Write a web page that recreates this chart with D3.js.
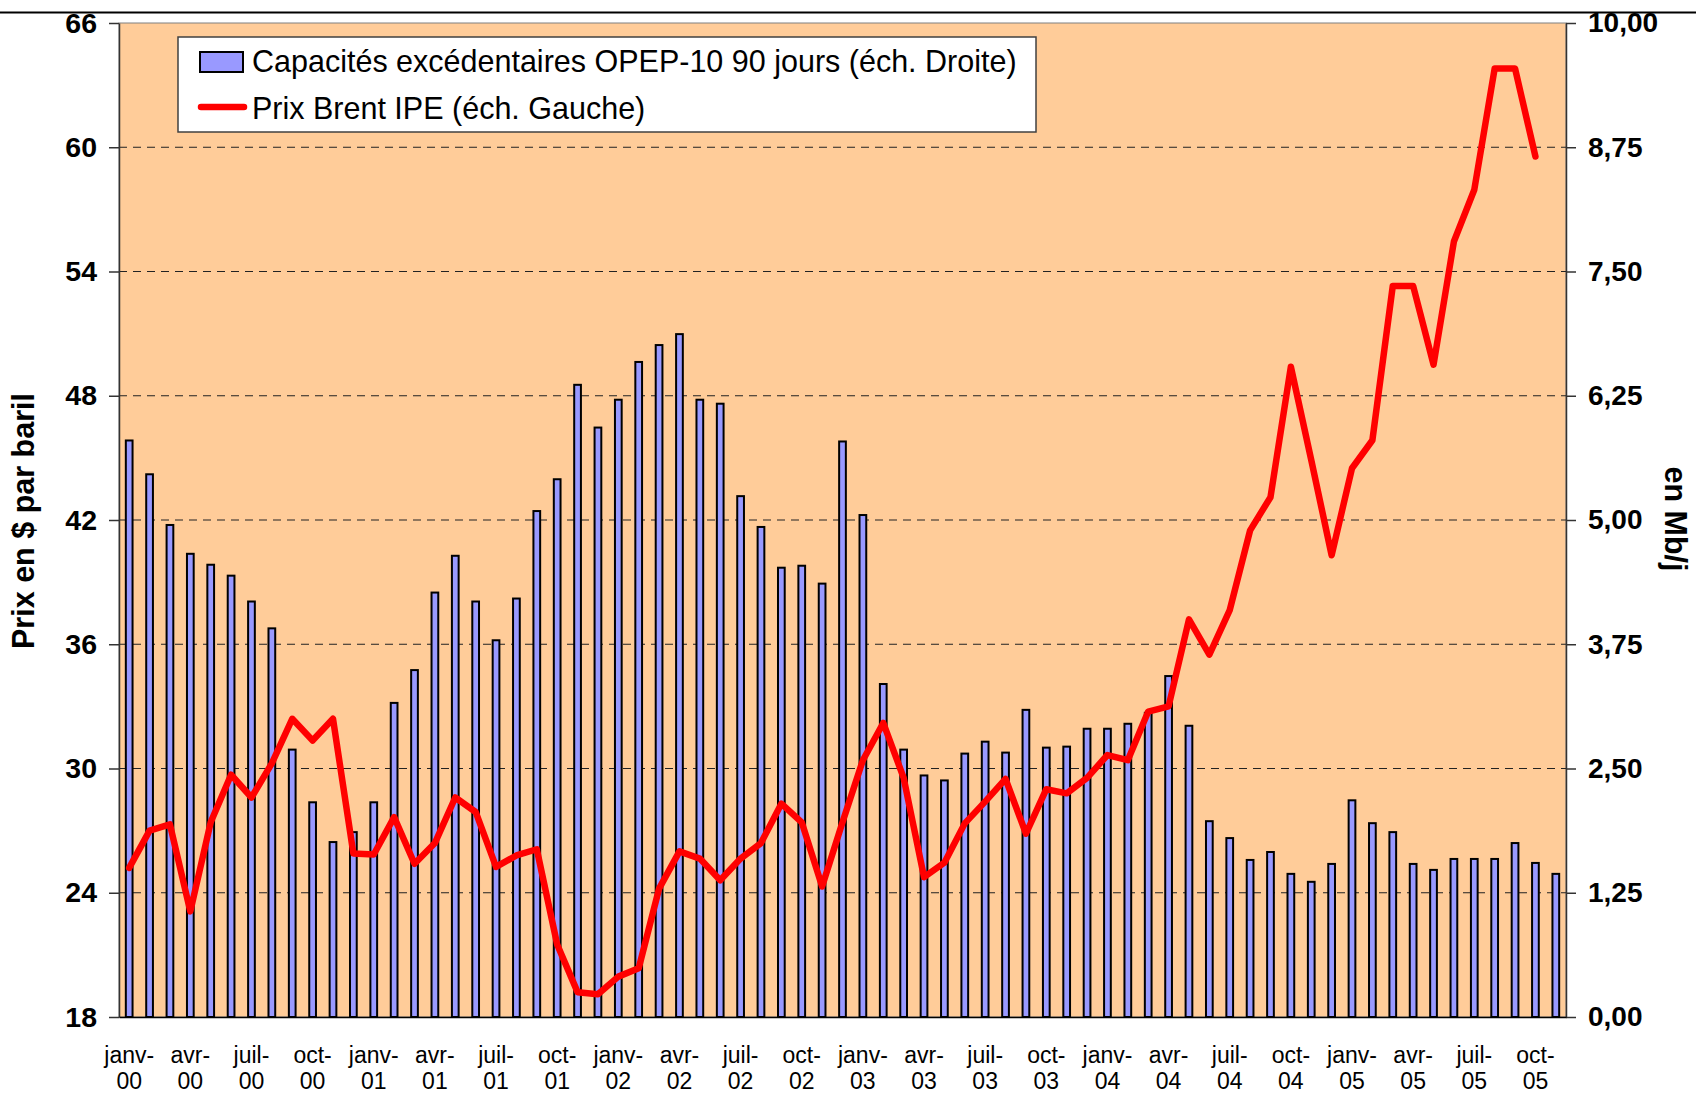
<!DOCTYPE html>
<html lang="fr">
<head>
<meta charset="utf-8">
<title>Capacités excédentaires OPEP-10 et prix du Brent</title>
<script src="https://cdn.jsdelivr.net/npm/d3@7"></script>
<style>
  body { margin: 0; background: #fff; }
  svg { display: block; font-family: "Liberation Sans", Arial, sans-serif; }
</style>
</head>
<body>
<div id="chart"></div>
<script>
// months, janv-00 .. nov-05
const months = [
  "janv-00", "févr-00", "mars-00", "avr-00", "mai-00", "juin-00", "juil-00", "août-00", "sept-00", "oct-00", "nov-00", "déc-00",
  "janv-01", "févr-01", "mars-01", "avr-01", "mai-01", "juin-01", "juil-01", "août-01", "sept-01", "oct-01", "nov-01", "déc-01",
  "janv-02", "févr-02", "mars-02", "avr-02", "mai-02", "juin-02", "juil-02", "août-02", "sept-02", "oct-02", "nov-02", "déc-02",
  "janv-03", "févr-03", "mars-03", "avr-03", "mai-03", "juin-03", "juil-03", "août-03", "sept-03", "oct-03", "nov-03", "déc-03",
  "janv-04", "févr-04", "mars-04", "avr-04", "mai-04", "juin-04", "juil-04", "août-04", "sept-04", "oct-04", "nov-04", "déc-04",
  "janv-05", "févr-05", "mars-05", "avr-05", "mai-05", "juin-05", "juil-05", "août-05", "sept-05", "oct-05", "nov-05"
];

// spare capacity OPEP-10, Mb/j (right scale)
const capacity = [
  5.80, 5.46, 4.95, 4.66, 4.55, 4.44, 4.18, 3.91, 2.69, 2.16, 1.76, 1.86,
  2.16, 3.16, 3.49, 4.27, 4.64, 4.18, 3.79, 4.21, 5.09, 5.41, 6.36, 5.93,
  6.21, 6.59, 6.76, 6.87, 6.21, 6.17, 5.24, 4.93, 4.52, 4.54, 4.36, 5.79,
  5.05, 3.35, 2.69, 2.43, 2.38, 2.65, 2.77, 2.66, 3.09, 2.71, 2.72, 2.90,
  2.90, 2.95, 3.06, 3.43, 2.93, 1.97, 1.80, 1.58, 1.66, 1.44, 1.36, 1.54,
  2.18, 1.95, 1.86, 1.54, 1.48, 1.59, 1.59, 1.59, 1.75, 1.55, 1.44
];

// Brent IPE, $ per barrel (left scale), no value for nov-05
const brent = [
  25.2, 27.0, 27.3, 23.1, 27.4, 29.7, 28.6, 30.25, 32.4, 31.35, 32.4, 25.9,
  25.85, 27.65, 25.4, 26.4, 28.6, 27.9, 25.25, 25.8, 26.1, 21.5, 19.2, 19.1,
  19.95, 20.35, 24.2, 26.0, 25.65, 24.6, 25.65, 26.4, 28.3, 27.4, 24.3, 27.4,
  30.4, 32.2, 29.55, 24.75, 25.45, 27.35, 28.4, 29.5, 26.85, 29.0, 28.8, 29.55,
  30.65, 30.4, 32.75, 33.0, 37.2, 35.5, 37.65, 41.5, 43.1, 49.4, 44.9, 40.3,
  44.5, 45.85, 53.3, 53.3, 49.5, 55.45, 57.95, 63.8, 63.8, 59.55, null
];

const leftTicks = [18, 24, 30, 36, 42, 48, 54, 60, 66];
const rightTicks = [0, 1.25, 2.5, 3.75, 5, 6.25, 7.5, 8.75, 10];
const tickMonths = months.filter((m, i) => i % 3 === 0);

const legendLabels = [
  "Capacités excédentaires OPEP-10 90 jours (éch. Droite)",
  "Prix Brent IPE (éch. Gauche)"
];

const width = 1696, height = 1096;
const plot = { left: 119, right: 1566, top: 23, bottom: 1017 };

const frFormat = d3.formatLocale({ decimal: ",", thousands: " ", grouping: [3], currency: ["", " €"] }).format(".2f");

const svg = d3.select("#chart").append("svg")
    .attr("width", width)
    .attr("height", height);

// rule across the top
svg.append("line")
    .attr("x1", 0).attr("x2", width)
    .attr("y1", 12.5).attr("y2", 12.5)
    .attr("stroke", "#000")
    .attr("stroke-width", 2);

const x = d3.scaleBand()
    .domain(months)
    .range([plot.left, plot.right])
    .paddingInner(0.67)
    .paddingOuter(0.335);

const yLeft = d3.scaleLinear().domain([18, 66]).range([plot.bottom, plot.top]);
const yRight = d3.scaleLinear().domain([0, 10]).range([plot.bottom, plot.top]);
const cx = m => x(m) + x.bandwidth() / 2;

svg.append("rect")
    .attr("x", plot.left)
    .attr("y", plot.top)
    .attr("width", plot.right - plot.left)
    .attr("height", plot.bottom - plot.top)
    .attr("fill", "#FFCC99")
    .attr("stroke", "#808080");

// dashed grid
svg.append("g")
    .selectAll("line")
    .data(leftTicks.filter(t => t > 18 && t < 66))
    .join("line")
    .attr("x1", plot.left).attr("x2", plot.right)
    .attr("y1", d => yLeft(d)).attr("y2", d => yLeft(d))
    .attr("stroke", "#222")
    .attr("stroke-dasharray", "8,6");

svg.append("g")
    .selectAll("rect")
    .data(capacity)
    .join("rect")
    .attr("x", (d, i) => x(months[i]))
    .attr("y", d => yRight(d))
    .attr("width", x.bandwidth())
    .attr("height", d => yRight(0) - yRight(d))
    .attr("fill", "#9999FF")
    .attr("stroke", "#000")
    .attr("stroke-width", 2);

const line = d3.line()
    .defined(d => d != null)
    .x((d, i) => cx(months[i]))
    .y(d => yLeft(d));

svg.append("path")
    .datum(brent)
    .attr("d", line)
    .attr("fill", "none")
    .attr("stroke", "#FF0000")
    .attr("stroke-width", 6.5)
    .attr("stroke-linejoin", "round")
    .attr("stroke-linecap", "round");

// axes
const styleAxis = g => {
  g.select(".domain").attr("stroke", "#333").attr("stroke-width", 1.5);
  g.selectAll(".tick line").attr("stroke", "#333").attr("stroke-width", 1.5);
  g.selectAll(".tick text").attr("fill", "#000");
};

svg.append("g")
    .attr("transform", `translate(${plot.left},0)`)
    .call(d3.axisLeft(yLeft).tickValues(leftTicks).tickSize(10).tickPadding(12).tickSizeOuter(0))
    .call(styleAxis)
    .call(g => g.selectAll(".tick text")
        .attr("font-family", "Liberation Sans, Arial, sans-serif")
        .attr("font-size", 28.5).attr("font-weight", "bold"));

svg.append("g")
    .attr("transform", `translate(${plot.right},0)`)
    .call(d3.axisRight(yRight).tickValues(rightTicks).tickFormat(frFormat).tickSize(10).tickPadding(12).tickSizeOuter(0))
    .call(styleAxis)
    .call(g => g.selectAll(".tick text")
        .attr("font-family", "Liberation Sans, Arial, sans-serif")
        .attr("font-size", 28).attr("font-weight", "bold"));

svg.append("g")
    .attr("transform", `translate(0,${plot.bottom})`)
    .call(d3.axisBottom(x).tickValues(tickMonths).tickSize(0).tickSizeOuter(0))
    .call(g => g.select(".domain").attr("stroke", "#000").attr("stroke-width", 1.5))
    .call(g => g.selectAll(".tick text")
        .attr("font-family", "Liberation Sans, Arial, sans-serif")
        .attr("font-size", 23)
        .attr("fill", "#000")
        .attr("dy", null)
        .attr("y", null)
        .text(null)
        .selectAll("tspan")
        .data(d => d.split("-"))
        .join("tspan")
        .attr("x", 0)
        .attr("y", (d, i) => 46 + i * 26)
        .text((d, i) => i ? d : d + "-"));

// axis titles
svg.append("text")
    .attr("transform", `translate(34,521) rotate(-90)`)
    .attr("text-anchor", "middle")
    .attr("font-size", 30.5)
    .attr("font-weight", "bold")
    .text("Prix en $ par baril");

svg.append("text")
    .attr("transform", `translate(1665,519) rotate(90)`)
    .attr("text-anchor", "middle")
    .attr("font-size", 30.5)
    .attr("font-weight", "bold")
    .text("en Mb/j");

// legend
const legend = svg.append("g");

legend.append("rect")
    .attr("x", 178).attr("y", 37)
    .attr("width", 858).attr("height", 95)
    .attr("fill", "#fff")
    .attr("stroke", "#404040")
    .attr("stroke-width", 1.5);

legend.append("rect")
    .attr("x", 200).attr("y", 52)
    .attr("width", 43).attr("height", 20)
    .attr("fill", "#9999FF")
    .attr("stroke", "#000")
    .attr("stroke-width", 2);

legend.append("line")
    .attr("x1", 201).attr("x2", 244)
    .attr("y1", 107).attr("y2", 107)
    .attr("stroke", "#FF0000")
    .attr("stroke-width", 6.5)
    .attr("stroke-linecap", "round");

legend.selectAll("text")
    .data(legendLabels)
    .join("text")
    .attr("x", 252)
    .attr("y", (d, i) => 72 + i * 47)
    .attr("font-size", 30.5)
    .text(d => d);
</script>
</body>
</html>
